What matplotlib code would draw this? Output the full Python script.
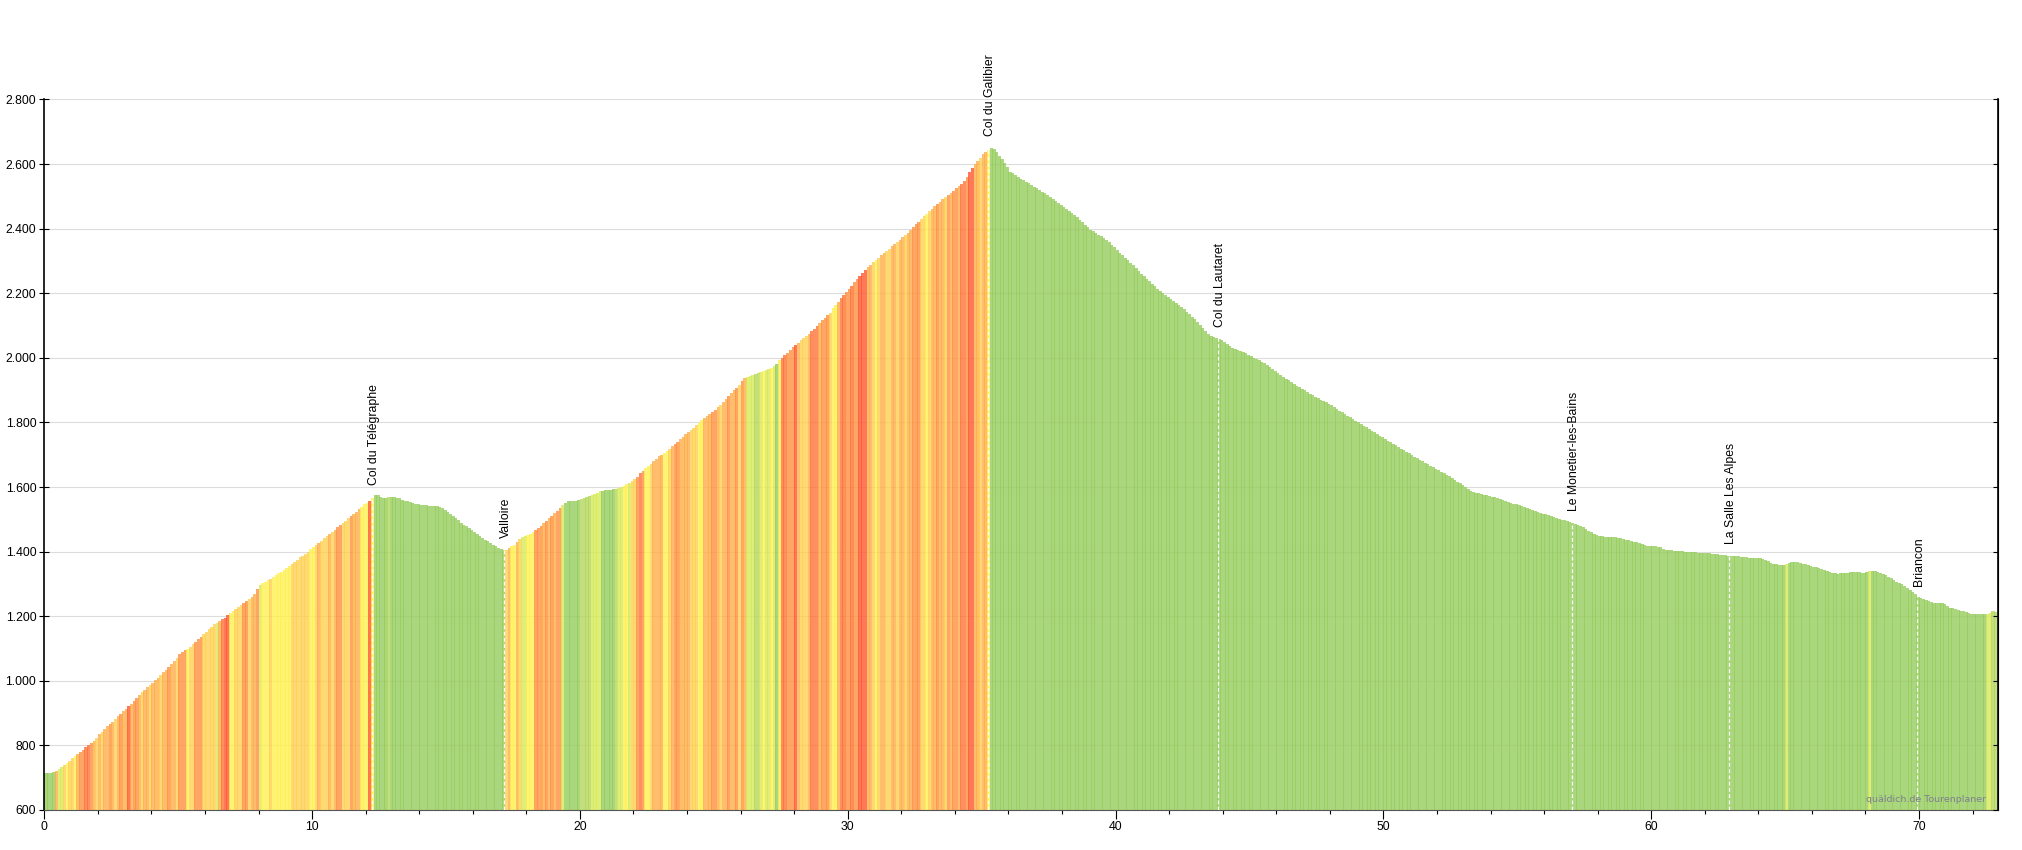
import matplotlib
matplotlib.use('Agg')
import matplotlib.pyplot as plt
from matplotlib.ticker import MultipleLocator

plt.rcParams['font.family'] = ['Liberation Sans', 'DejaVu Sans']

# elevation every 100 m, one row per km
elevation = [
    715, 716, 716, 718, 722, 728, 733, 738, 744, 752,
    760, 766, 772, 780, 786, 794, 800, 806, 814, 824,
    835, 843, 851, 859, 866, 874, 882, 890, 898, 905,
    913, 921, 929, 938, 947, 956, 965, 973, 981, 988,
    994, 1002, 1010, 1018, 1026, 1034, 1042, 1052, 1062, 1072,
    1082, 1088, 1094, 1100, 1106, 1113, 1120, 1128, 1136, 1144,
    1152, 1160, 1168, 1175, 1180, 1184, 1190, 1196, 1203, 1210,
    1217, 1222, 1228, 1235, 1242, 1248, 1254, 1260, 1268, 1285,
    1296, 1302, 1307, 1312, 1316, 1321, 1328, 1333, 1338, 1343,
    1350, 1356, 1362, 1368, 1375, 1382, 1388, 1394, 1400, 1407,
    1414, 1421, 1428, 1434, 1441, 1448, 1455, 1461, 1468, 1475,
    1482, 1489, 1496, 1503, 1510, 1517, 1524, 1531, 1539, 1546,
    1552, 1558, 1566, 1575, 1575, 1570, 1566, 1565, 1568, 1569,
    1569, 1567, 1565, 1561, 1558, 1556, 1553, 1551, 1548, 1546,
    1545, 1544, 1543, 1542, 1541, 1540, 1540, 1539, 1535, 1529,
    1522, 1516, 1510, 1503, 1497, 1490, 1484, 1478, 1472, 1466,
    1460, 1454, 1448, 1443, 1437, 1432, 1426, 1421, 1416, 1412,
    1408, 1405, 1405, 1410, 1416, 1422, 1430, 1438, 1445, 1449,
    1452, 1456, 1460, 1466, 1472, 1480, 1488, 1496, 1504, 1511,
    1519, 1527, 1535, 1543, 1552, 1556, 1557, 1558, 1558, 1559,
    1564, 1567, 1570, 1573, 1576, 1579, 1583, 1587, 1589, 1590,
    1591, 1592, 1593, 1595, 1597, 1600, 1604, 1608, 1613, 1620,
    1625, 1632, 1644, 1651, 1658, 1665, 1672, 1680, 1688, 1696,
    1700, 1706, 1713, 1719, 1726, 1733, 1741, 1749, 1756, 1763,
    1770, 1777, 1784, 1791, 1798, 1808, 1814, 1820, 1826, 1832,
    1839, 1847, 1855, 1863, 1872, 1881, 1890, 1899, 1908, 1917,
    1927, 1937, 1941, 1945, 1948, 1951, 1954, 1957, 1960, 1963,
    1966, 1970, 1975, 1982, 1992, 2000, 2008, 2015, 2024, 2033,
    2040, 2047, 2054, 2061, 2068, 2075, 2082, 2090, 2100, 2108,
    2116, 2124, 2132, 2140, 2155, 2164, 2174, 2184, 2194, 2205,
    2214, 2224, 2234, 2244, 2254, 2264, 2272, 2280, 2288, 2296,
    2303, 2310, 2317, 2324, 2331, 2338, 2345, 2352, 2359, 2366,
    2373, 2380, 2388, 2397, 2405, 2413, 2421, 2430, 2438, 2446,
    2454, 2462, 2470, 2477, 2484, 2491, 2498, 2505, 2512, 2518,
    2525, 2531, 2538, 2549, 2560, 2574, 2588, 2600, 2610, 2620,
    2630, 2638, 2644, 2650, 2646, 2636, 2626, 2615, 2604, 2591,
    2577, 2571, 2565, 2560, 2555, 2550, 2545, 2540, 2535, 2530,
    2525, 2520, 2515, 2510, 2505, 2498, 2492, 2486, 2480, 2474,
    2468, 2462, 2456, 2449, 2442, 2435, 2428, 2420, 2412, 2404,
    2397, 2392, 2386, 2381, 2376, 2370, 2365, 2358, 2350, 2342,
    2334, 2326, 2318, 2310, 2302, 2294, 2286, 2278, 2270, 2261,
    2253, 2245, 2237, 2229, 2221, 2214, 2207, 2200, 2194, 2188,
    2182, 2176, 2170, 2164, 2157, 2150, 2143, 2136, 2128, 2120,
    2112, 2103, 2094, 2084, 2074, 2068, 2064, 2061, 2058, 2054,
    2049, 2044, 2038, 2032, 2028, 2025, 2021, 2018, 2014, 2010,
    2005, 2000, 1997, 1993, 1988, 1983, 1978, 1972, 1966, 1960,
    1954, 1948, 1942, 1936, 1930, 1925, 1920, 1914, 1909, 1904,
    1899, 1894, 1889, 1884, 1880, 1875, 1871, 1866, 1862, 1857,
    1853, 1848, 1843, 1837, 1832, 1827, 1821, 1816, 1811, 1805,
    1800, 1795, 1790, 1785, 1780, 1775, 1770, 1765, 1759, 1754,
    1749, 1744, 1739, 1734, 1729, 1724, 1719, 1714, 1709, 1704,
    1699, 1694, 1689, 1684, 1680, 1675, 1671, 1666, 1662, 1657,
    1652, 1648, 1643, 1638, 1633, 1628, 1622, 1617, 1612, 1606,
    1600, 1594, 1588, 1585, 1583, 1581, 1578, 1576, 1574, 1572,
    1570, 1568, 1566, 1563, 1561, 1558, 1555, 1552, 1549, 1546,
    1543, 1540, 1537, 1534, 1531, 1528, 1525, 1523, 1521, 1518,
    1515, 1512, 1509, 1507, 1505, 1502, 1499, 1497, 1495, 1493,
    1490, 1487, 1484, 1480, 1475, 1470, 1465, 1461, 1456, 1452,
    1449, 1447, 1446, 1445, 1445, 1444, 1444, 1443, 1441, 1439,
    1437, 1435, 1433, 1431, 1429, 1426, 1423, 1420, 1418, 1417,
    1417, 1416, 1415, 1414, 1408, 1405, 1404, 1404, 1403, 1402,
    1401, 1401, 1400, 1400, 1399, 1399, 1398, 1397, 1397, 1396,
    1395, 1395, 1394, 1393, 1392, 1391, 1390, 1389, 1388, 1387,
    1386, 1386, 1385, 1384, 1382, 1382, 1381, 1380, 1380, 1381,
    1379, 1377, 1374, 1370, 1365, 1362, 1361, 1360, 1360, 1360,
    1361, 1364, 1368, 1369, 1368, 1366, 1363, 1361, 1358, 1355,
    1353, 1351, 1349, 1347, 1344, 1341, 1338, 1334, 1333, 1332,
    1333, 1334, 1335, 1335, 1336, 1336, 1336, 1336, 1335, 1335,
    1336, 1340, 1341, 1340, 1338, 1335, 1332, 1327, 1322, 1317,
    1312, 1307, 1303, 1299, 1293, 1286, 1281, 1274, 1268, 1260,
    1256, 1253, 1250, 1247, 1245, 1242, 1242, 1241, 1242, 1238,
    1232, 1227, 1224, 1222, 1219, 1217, 1216, 1214, 1211, 1208,
    1207, 1207, 1206, 1206, 1206, 1207, 1210, 1215, 1214,
]

# gradient class of each bar, one chunk per km up to the Galibier
climb_classes = [
    "ggggollaya", "ayoddrrdoa", "oaoodoaodo", "oRoddoaooa", "oooaoodooa",
    "dddyaaddda", "aaaalorRRy", "yaaaddaood", "lyyyayyyyy", "yyaaaaaaay",
    "yaoaaaoaod", "daaadoooyy", "yRyggggghg", "gggggggggg", "gggggggggg",
    "gggggggggg", "gggggggggg", "ggaoyyoall", "yyydddodod", "oddlgggggg",
    "hhhhllllgg", "ggghllyyla", "adrdyyaooo", "oyyaoddooo", "oaaayyoood",
    "doaoodooda", "dolllhhlyl", "lylgyrrddd", "Roaaaorrro", "dddayyorrd",
    "drddRRRooa", "yaooaaooao", "oaoodddaay", "aoodooadod", "dorrdRRooa",
    "ooy",
]
descent_classes = "g" * 297 + "l" + "g" * 30 + "l" + "g" * 43 + "llhh"

class_colors = {
    'g': '#95cc5c', 'h': '#b5d65c', 'l': '#d6ea58', 'y': '#fff050',
    'a': '#ffd050', 'o': '#ffae48', 'd': '#ff9040', 'r': '#ff7238', 'R': '#ff5830',
}

place_km = [12.23, 17.18, 35.24, 43.82, 57.04, 62.92, 69.94]
place_elev = [1570, 1405, 2650, 2060, 1488, 1387, 1258]
place_names = ['Col du Télégraphe', 'Valloire', 'Col du Galibier', 'Col du Lautaret',
               'Le Monetier-les-Bains', 'La Salle Les Alpes', 'Briancon']

y_ticks = [600, 800, 1000, 1200, 1400, 1600, 1800, 2000, 2200, 2400, 2600, 2800]
y_labels = ['600', '800', '1.000', '1.200', '1.400', '1.600', '1.800', '2.000',
            '2.200', '2.400', '2.600', '2.800']

classes = ''.join(climb_classes) + descent_classes
km = [i * 0.1 for i in range(len(elevation))]
colors = [class_colors[c] for c in classes]

fig = plt.figure(figsize=(20.22, 8.5), dpi=100)
ax = fig.add_axes([44.3 / 2022, 40 / 850, 1954 / 2022, 710.5 / 850])

ax.bar(km, [e - 600 for e in elevation], bottom=600, width=0.12, align='edge',
       color=colors, alpha=0.8, linewidth=0, zorder=2)

ax.set_xlim(0, 72.96)
ax.set_ylim(600, 2800)
ax.set_yticks(y_ticks)
ax.set_yticklabels(y_labels, fontsize=8.8)
ax.xaxis.set_major_locator(MultipleLocator(10))
ax.xaxis.set_minor_locator(MultipleLocator(2))
ax.tick_params(axis='x', which='major', length=6.5, width=0.8, labelsize=8.8, pad=1.5)
ax.tick_params(axis='x', which='minor', length=3, width=0.8)
ax.tick_params(axis='y', which='major', direction='inout', length=6.5, width=0.8, pad=2.5)
ax.grid(axis='y', color='#dcdcdc', linewidth=0.8, zorder=1)
ax.set_axisbelow(True)

right_axis = ax.twinx()
right_axis.set_ylim(600, 2800)
right_axis.set_yticks(y_ticks)
right_axis.set_yticklabels([])
right_axis.tick_params(axis='y', direction='in', length=3.5, width=0.8)
right_axis.spines['right'].set_linewidth(1.2)
right_axis.spines['top'].set_visible(False)
right_axis.spines['left'].set_visible(False)
right_axis.spines['bottom'].set_visible(False)

ax.spines['top'].set_visible(False)
ax.spines['left'].set_linewidth(1.2)
ax.spines['bottom'].set_color('#555555')
ax.spines['bottom'].set_linewidth(0.8)
ax.spines['bottom'].set_linestyle((0, (2, 1)))

for x, e, name in zip(place_km, place_elev, place_names):
    ax.plot([x, x], [600, e], color='white', linewidth=0.9, linestyle=(0, (3, 2)), zorder=3)
    ax.annotate(name, xy=(x, e), xytext=(1.2, 8.6), textcoords='offset points', rotation=90,
                ha='center', va='bottom', fontsize=8.8, color='black', annotation_clip=False)

ax.text(72.5, 618, 'quäldich.de Tourenplaner', ha='right', va='bottom', fontsize=6.8,
        family='DejaVu Sans', color='#7f7f8f', zorder=4)

fig.savefig('out.png', dpi=100)
